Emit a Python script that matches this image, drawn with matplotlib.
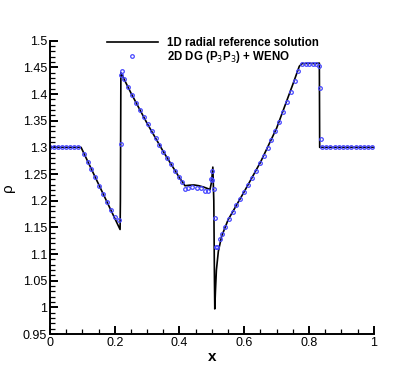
import numpy as np
import matplotlib.pyplot as plt
from matplotlib.ticker import MultipleLocator, FormatStrFormatter

plt.rcParams['font.family'] = ['Liberation Sans', 'DejaVu Sans']

# solucao de referencia 1D radial
ref_x = [0.0, 0.096, 0.2165, 0.2175, 0.219, 0.25, 0.3, 0.35, 0.4, 0.417,
         0.43, 0.445, 0.46, 0.475, 0.49, 0.494, 0.499, 0.503, 0.506, 0.508,
         0.509, 0.511, 0.514, 0.52, 0.53, 0.55, 0.6, 0.65, 0.7, 0.75,
         0.77, 0.778, 0.8, 0.82, 0.832, 0.833, 1.0]
ref_y = [1.3, 1.3, 1.146, 1.2, 1.44, 1.402, 1.345, 1.292, 1.243, 1.228,
         1.229, 1.2295, 1.228, 1.2255, 1.222, 1.2205, 1.235, 1.263, 1.20, 1.05,
         0.997, 1.03, 1.07, 1.105, 1.133, 1.164, 1.217, 1.272, 1.336, 1.418,
         1.452, 1.457, 1.4575, 1.457, 1.458, 1.3, 1.3]

# solucao 2D DG (P3P3) + WENO
dg_x = [0.0, 0.012, 0.025, 0.036, 0.048, 0.061, 0.074, 0.087,
        0.105, 0.117, 0.128, 0.14, 0.152, 0.164, 0.176, 0.188, 0.2, 0.213,
        0.218, 0.219, 0.222,
        0.23, 0.242, 0.254, 0.266, 0.278, 0.29, 0.302, 0.314, 0.326, 0.338,
        0.35, 0.362, 0.374, 0.386, 0.398, 0.408, 0.417,
        0.427, 0.44, 0.453, 0.466, 0.48, 0.489, 0.497, 0.5, 0.501, 0.507,
        0.51, 0.513, 0.517, 0.525, 0.532, 0.54,
        0.552, 0.564, 0.576, 0.588, 0.6, 0.612, 0.624, 0.636, 0.648, 0.66,
        0.672, 0.684, 0.696, 0.708, 0.72, 0.732, 0.744, 0.756, 0.767,
        0.779, 0.79, 0.8, 0.812, 0.822, 0.83, 0.834, 0.837,
        0.84, 0.853, 0.866, 0.879, 0.892, 0.905, 0.918, 0.931, 0.944,
        0.957, 0.97, 0.983, 0.996]
dg_y = [1.3, 1.3, 1.3, 1.3, 1.3, 1.3, 1.3, 1.3,
        1.288, 1.273, 1.259, 1.244, 1.228, 1.213, 1.197, 1.182, 1.17, 1.163,
        1.306, 1.436, 1.443,
        1.428, 1.413, 1.398, 1.384, 1.37, 1.357, 1.343, 1.33, 1.317, 1.304,
        1.292, 1.28, 1.268, 1.256, 1.245, 1.235, 1.221,
        1.224, 1.225, 1.224, 1.223, 1.218, 1.218, 1.24, 1.239, 1.256, 1.222,
        1.167, 1.113, 1.113, 1.129, 1.138, 1.15,
        1.166, 1.179, 1.191, 1.204, 1.217, 1.23, 1.243, 1.256, 1.27, 1.284,
        1.298, 1.313, 1.33, 1.347, 1.366, 1.385, 1.404, 1.425, 1.443,
        1.456, 1.456, 1.456, 1.456, 1.457, 1.452, 1.412, 1.315,
        1.3, 1.3, 1.3, 1.3, 1.3, 1.3, 1.3, 1.3, 1.3,
        1.3, 1.3, 1.3, 1.3]

fig = plt.figure(figsize=(4.19, 3.71), dpi=100)
ax = fig.add_axes([0.1193, 0.0997, 0.7727, 0.7906])

ax.plot(ref_x, ref_y, color='black', lw=1.2, label='1D radial reference solution')
ax.plot(dg_x, dg_y, ls='none', marker='o', ms=2.6, mfc='none', mec='#4646ff',
        mew=0.9, label='2D DG (P$_3$P$_3$) + WENO')

ax.set_xlim(0, 1)
ax.set_ylim(0.95, 1.5)
ax.xaxis.set_major_locator(MultipleLocator(0.2))
ax.xaxis.set_minor_locator(MultipleLocator(0.05))
ax.yaxis.set_major_locator(MultipleLocator(0.05))
ax.yaxis.set_minor_locator(MultipleLocator(0.01))
ax.xaxis.set_major_formatter(FormatStrFormatter('%g'))
ax.yaxis.set_major_formatter(FormatStrFormatter('%g'))

for s in ['top', 'right']:
    ax.spines[s].set_visible(False)
for s in ['left', 'bottom']:
    ax.spines[s].set_linewidth(1.4)

ax.tick_params(which='major', direction='in', length=6, width=1.4, labelsize=9, pad=2)
ax.tick_params(which='minor', direction='in', length=3.5, width=0.9)

ax.set_xlabel('x', fontsize=11, fontweight='bold', labelpad=1)
ax.set_ylabel('ρ', fontsize=11, labelpad=6)

ax.legend(loc='upper left', bbox_to_anchor=(0.176, 1.014), frameon=False,
          borderpad=0, borderaxespad=0, handlelength=4.4, handletextpad=0.85,
          labelspacing=0.0, prop={'weight': 'bold', 'size': 8.3})

fig.savefig('out.png', dpi=100)
